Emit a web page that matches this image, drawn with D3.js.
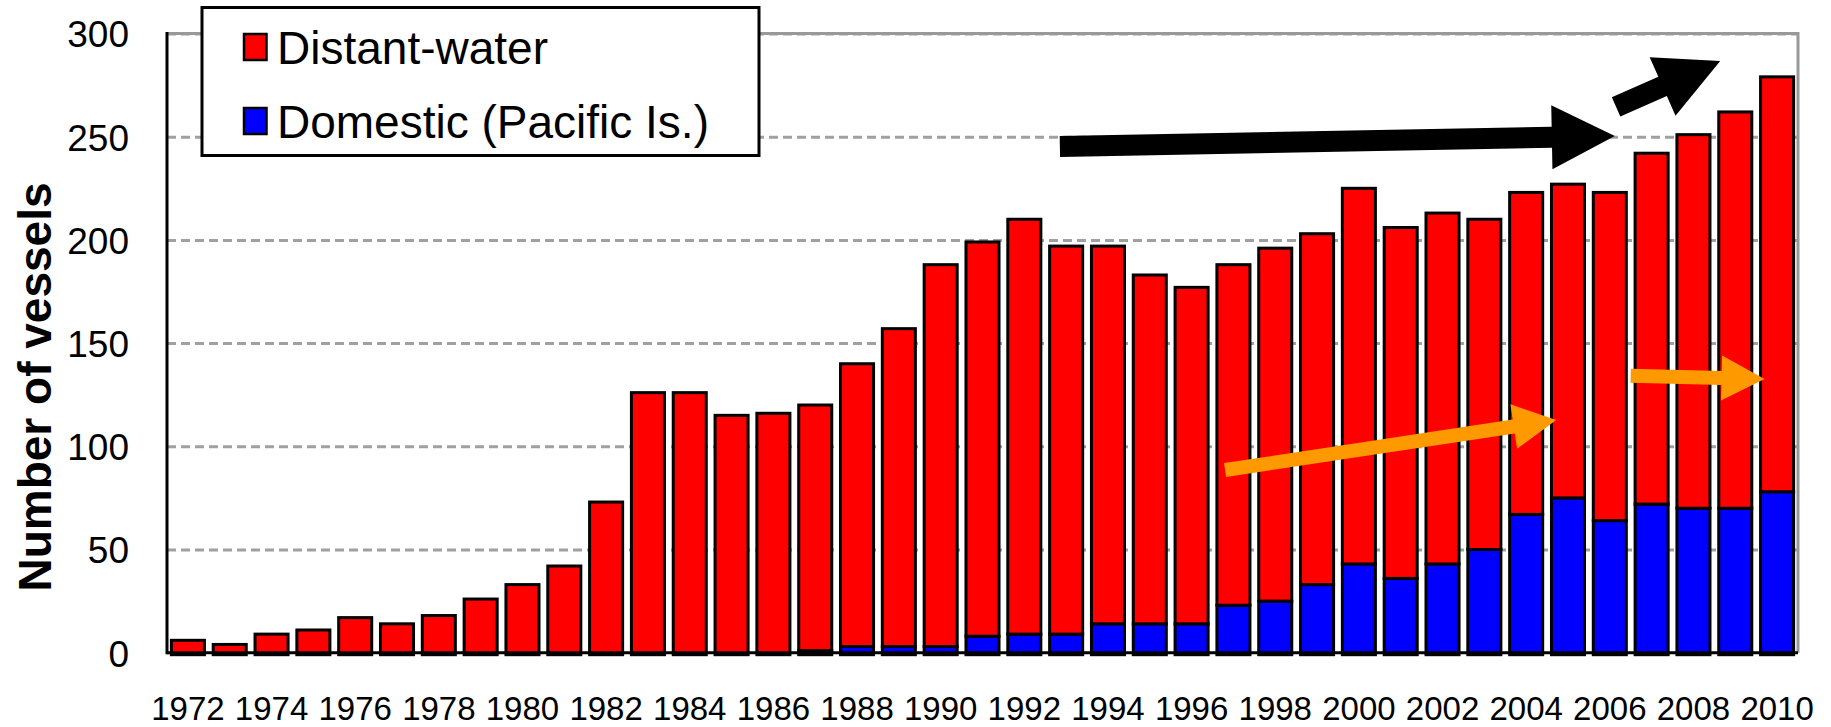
<!DOCTYPE html>
<html>
<head>
<meta charset="utf-8">
<script src="https://cdn.jsdelivr.net/npm/d3@7/dist/d3.min.js"></script>
<style>
  html, body { margin: 0; padding: 0; background: #fff; }
  svg { display: block; font-family: "Liberation Sans", Arial, sans-serif; }
</style>
</head>
<body>
<svg id="chart" width="1831" height="727"></svg>
<script>
// ---- data ----
const years = d3.range(1972, 2011);
const domestic = [0,0,0,0,0,0,0,0,0,0,0,0,0,0,0,1,3,3,3,8,9,9,14,14,14,23,25,33,43,36,43,50,67,75,64,72,70,70,78];
const distantWater = [6,4,9,11,17,14,18,26,33,42,73,126,126,115,116,119,137,154,185,191,201,188,183,169,163,165,171,170,182,170,170,160,156,152,159,170,181,192,201];
const yTicks = [0, 50, 100, 150, 200, 250, 300];
const xTickYears = years.filter(yr => yr % 2 === 0);
const seriesNames = ["Distant-water", "Domestic (Pacific Is.)"];
const seriesColors = ["#ff0000", "#0000ff"];
// trend arrows, in data terms: [yearFrom, valueFrom, yearTo, valueTo]
const blackArrows = [[1992.85, 245.3, 2006.12, 250.3], [2006.15, 264.4, 2008.64, 286.7]];
const orangeArrows = [[1996.8, 88.5, 2004.72, 112.7], [2006.5, 134.2, 2009.7, 132.6]];

// ---- layout ----
const svg = d3.select("#chart");
const mLeft = 167, mRight = 1798, mTop = 33.5, mBottom = 652.7;

const x = d3.scaleBand().domain(years).range([mLeft, mRight]).paddingInner(0.21).paddingOuter(0.105);
const y = d3.scaleLinear().domain([0, 300]).range([mBottom, mTop]);
const xc = d3.scaleLinear().domain([1972, 2010])
  .range([x(1972) + x.bandwidth() / 2, x(2010) + x.bandwidth() / 2]);

// gridlines
svg.append("g")
  .attr("transform", `translate(${mLeft},0)`)
  .call(d3.axisLeft(y).tickValues(yTicks.slice(1)).tickSize(-(mRight - mLeft)).tickFormat(""))
  .call(g => g.select(".domain").remove())
  .call(g => g.selectAll("line").attr("stroke", "#a0a0a0").attr("stroke-width", 3).attr("stroke-dasharray", "9,5"));

// plot border top/right (gray)
svg.append("path")
  .attr("d", `M${mLeft},${y(300)}H${mRight}V${y(0)}`)
  .attr("fill", "none").attr("stroke", "#999").attr("stroke-width", 3);

// bars
const bars = svg.append("g");
years.forEach((yr, i) => {
  const d = domestic[i], w = distantWater[i];
  const bx = x(yr), bw = x.bandwidth();
  if (d > 0) {
    bars.append("rect")
      .attr("x", bx).attr("y", y(d)).attr("width", bw).attr("height", y(0) + 2 - y(d))
      .attr("fill", seriesColors[1]).attr("stroke", "#000").attr("stroke-width", 3);
  }
  const base = d > 0 ? y(d) : y(0) + 2;
  bars.append("rect")
    .attr("x", bx).attr("y", y(d + w)).attr("width", bw).attr("height", base - y(d + w))
    .attr("fill", seriesColors[0]).attr("stroke", "#000").attr("stroke-width", 3);
});

// axes lines
svg.append("line").attr("x1", mLeft).attr("x2", mLeft).attr("y1", y(300) - 1.5).attr("y2", y(0) + 1.5)
  .attr("stroke", "#000").attr("stroke-width", 3);
svg.append("line").attr("x1", mLeft).attr("x2", mRight).attr("y1", y(0)).attr("y2", y(0))
  .attr("stroke", "#000").attr("stroke-width", 3);

// y tick labels
svg.append("g")
  .attr("transform", `translate(${mLeft},0)`)
  .call(d3.axisLeft(y).tickValues(yTicks).tickSize(0).tickPadding(38))
  .call(g => g.select(".domain").remove())
  .call(g => g.selectAll("text").attr("font-size", 37).attr("fill", "#000")
    .attr("font-family", "'Liberation Sans', Arial, sans-serif").attr("dy", "0.36em"));

// x tick labels
svg.append("g")
  .attr("transform", `translate(0,${mBottom})`)
  .call(d3.axisBottom(x).tickValues(xTickYears).tickSize(0).tickPadding(44))
  .call(g => g.select(".domain").remove())
  .call(g => g.selectAll("text").attr("font-size", 33).attr("fill", "#000")
    .attr("font-family", "'Liberation Sans', Arial, sans-serif"));

// y axis title
svg.append("text")
  .attr("transform", "translate(51,387) rotate(-90)")
  .attr("text-anchor", "middle")
  .attr("font-size", 46).attr("font-weight", "bold")
  .text("Number of vessels");

// arrows
function arrowPath(x0, y0, x1, y1, w, hw, hl) {
  const dx = x1 - x0, dy = y1 - y0, L = Math.hypot(dx, dy);
  const ux = dx / L, uy = dy / L, nx = -uy, ny = ux;
  const bx = x1 - ux * hl, by = y1 - uy * hl;
  const p = [
    [x0 + nx * w / 2, y0 + ny * w / 2],
    [bx + nx * w / 2, by + ny * w / 2],
    [bx + nx * hw / 2, by + ny * hw / 2],
    [x1, y1],
    [bx - nx * hw / 2, by - ny * hw / 2],
    [bx - nx * w / 2, by - ny * w / 2],
    [x0 - nx * w / 2, y0 - ny * w / 2]
  ];
  return "M" + p.map(q => q.join(",")).join("L") + "Z";
}
const arrows = svg.append("g");
blackArrows.forEach(a => {
  arrows.append("path")
    .attr("d", arrowPath(xc(a[0]), y(a[1]), xc(a[2]), y(a[3]), 21, 64, 63))
    .attr("fill", "#000");
});
orangeArrows.forEach(a => {
  arrows.append("path")
    .attr("d", arrowPath(xc(a[0]), y(a[1]), xc(a[2]), y(a[3]), 14, 45, 43))
    .attr("fill", "#ff9900");
});

// legend
const lg = svg.append("g");
lg.append("rect").attr("x", 202).attr("y", 7.5).attr("width", 557).attr("height", 148)
  .attr("fill", "#fff").attr("stroke", "#000").attr("stroke-width", 3);
seriesNames.forEach((name, i) => {
  const cy = 47 + i * 74;
  lg.append("rect").attr("x", 244).attr("y", cy - 13).attr("width", 22.5).attr("height", 26)
    .attr("fill", seriesColors[i]).attr("stroke", "#000").attr("stroke-width", 2.5);
  lg.append("text").attr("x", 277).attr("y", cy + 16.5)
    .attr("font-size", 46).attr("fill", "#000").text(name);
});
</script>
</body>
</html>
